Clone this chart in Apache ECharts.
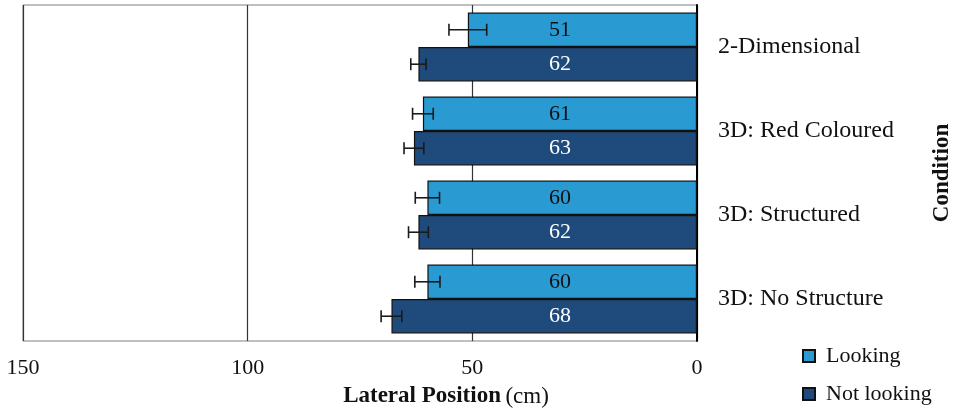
<!DOCTYPE html>
<html>
<head>
<meta charset="utf-8">
<script src="https://cdn.jsdelivr.net/npm/echarts@6/dist/echarts.min.js"></script>
<style>
  html, body { margin: 0; padding: 0; background: #fff; }
  #chart { width: 954px; height: 413px; }
</style>
</head>
<body>
<div id="chart"></div>
<script>
// Lateral position by condition, looking vs. not looking (mean ± error)
const conditions = ['2-Dimensional', '3D: Red Coloured', '3D: Structured', '3D: No Structure'];
const lookingMeans = [51, 61, 60, 60];
const lookingErrors = [4.2, 2.3, 2.7, 2.8];
const notLookingMeans = [62, 63, 62, 68];
const notLookingErrors = [1.7, 2.2, 2.2, 2.3];
const xTicks = [0, 50, 100, 150];

const FONT = '"Liberation Serif", "Times New Roman", serif';
const COLOR_LOOK = '#2a9ad2';
const COLOR_NOT = '#1f4a7c';
const CATEGORY_GAP = 0.18;
const LABEL_AT = 30.5; // value position where the numbers are written

function errorSeries(name, means, errs, side, textColor) {
  return {
    type: 'custom',
    name: name + ' error',
    z: 5,
    silent: true,
    encode: { x: [0, 1], y: 2 },
    data: means.map((m, i) => [m - errs[i], m + errs[i], i, m]),
    renderItem: function (params, api) {
      const cat = api.value(2);
      const band = api.size([0, 1])[1];
      const off = side * band * (1 - CATEGORY_GAP) / 4;
      const a = api.coord([api.value(0), cat]);
      const b = api.coord([api.value(1), cat]);
      const t = api.coord([LABEL_AT, cat]);
      const y = a[1] + off;
      const cap = 6;
      const ls = { stroke: '#1a1a1a', lineWidth: 1.6 };
      return {
        type: 'group',
        children: [
          { type: 'line', shape: { x1: a[0], y1: y, x2: b[0], y2: y }, style: ls },
          { type: 'line', shape: { x1: a[0], y1: y - cap, x2: a[0], y2: y + cap }, style: ls },
          { type: 'line', shape: { x1: b[0], y1: y - cap, x2: b[0], y2: y + cap }, style: ls },
          { type: 'text', x: t[0], y: y,
            style: { text: String(api.value(3)), fill: textColor, font: '22px ' + FONT,
                     align: 'center', verticalAlign: 'middle' } }
        ]
      };
    }
  };
}

const chart = echarts.init(document.getElementById('chart'), null, { renderer: 'canvas' });
chart.setOption({
  animation: false,
  backgroundColor: '#ffffff',
  textStyle: { fontFamily: FONT },
  grid: { left: 23, right: 257, top: 5, bottom: 72, show: true, borderColor: '#808080', borderWidth: 1,
          containLabel: false, outerBoundsMode: 'none' },
  title: {
    text: '{b|Lateral Position} {r|(cm)}',
    left: 441, top: 380, textAlign: 'center',
    textStyle: {
      rich: {
        b: { fontFamily: FONT, fontSize: 23, fontWeight: 'bold', color: '#111' },
        r: { fontFamily: FONT, fontSize: 23, fontWeight: 'normal', color: '#111' }
      }
    }
  },
  legend: {
    orient: 'vertical',
    left: 802, top: 345, height: 68, padding: 0,
    icon: 'rect',
    itemWidth: 12, itemHeight: 12, itemGap: 16,
    data: ['Looking', 'Not looking'],
    textStyle: { fontFamily: FONT, fontSize: 22, color: '#111', padding: [0, 0, 0, 6] }
  },
  xAxis: {
    type: 'value',
    inverse: true,
    min: 0, max: 150, interval: 50,
    axisLine: { show: false },
    axisTick: { show: false },
    axisLabel: { fontFamily: FONT, fontSize: 22, color: '#111', margin: 16,
                 formatter: v => xTicks.includes(v) ? String(v) : '' },
    splitLine: { show: true, lineStyle: { color: '#333333', width: 1.2 } }
  },
  yAxis: {
    type: 'category',
    position: 'right',
    inverse: true,
    data: conditions,
    axisLine: { show: true, onZero: false, lineStyle: { color: '#000', width: 2 } },
    axisTick: { show: false },
    axisLabel: { fontFamily: FONT, fontSize: 24, color: '#111', margin: 21, align: 'left' },
    name: 'Condition',
    nameLocation: 'middle',
    nameRotate: 90,
    nameGap: 234,
    nameTextStyle: { fontFamily: FONT, fontSize: 23, fontWeight: 'bold', color: '#111' }
  },
  series: [
    {
      type: 'bar', name: 'Looking', data: lookingMeans,
      barGap: '0%', barCategoryGap: (CATEGORY_GAP * 100) + '%',
      itemStyle: { color: COLOR_LOOK, borderColor: '#111', borderWidth: 1.2 }
    },
    {
      type: 'bar', name: 'Not looking', data: notLookingMeans,
      barGap: '0%', barCategoryGap: (CATEGORY_GAP * 100) + '%',
      itemStyle: { color: COLOR_NOT, borderColor: '#111', borderWidth: 1.2 }
    },
    errorSeries('Looking', lookingMeans, lookingErrors, -1, '#111'),
    errorSeries('Not looking', notLookingMeans, notLookingErrors, 1, '#ffffff')
  ]
});
</script>
</body>
</html>
